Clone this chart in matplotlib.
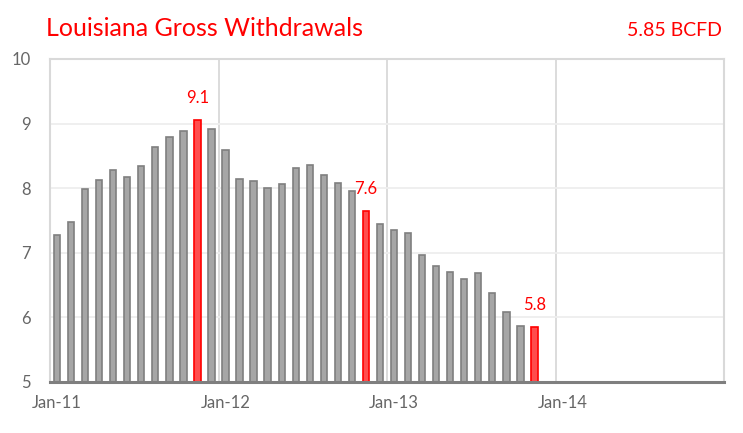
import matplotlib
matplotlib.use("Agg")
import matplotlib.pyplot as plt
import numpy as np

# Louisiana gross withdrawals, monthly, Jan-11 .. Nov-13 (BCFD)
valores = [7.28, 7.48, 7.98, 8.12, 8.28, 8.17, 8.35, 8.64, 8.80, 8.88, 9.05, 8.91,
           8.59, 8.14, 8.11, 8.00, 8.07, 8.32, 8.36, 8.21, 8.08, 7.96, 7.65, 7.45,
           7.36, 7.30, 6.96, 6.79, 6.70, 6.60, 6.69, 6.38, 6.08, 5.86, 5.85]
# meses resaltados (noviembre de cada anio) y sus etiquetas
resaltados = [10, 22, 34]
etiquetas_resaltadas = ["9.1", "7.6", "5.8"]
etiquetas_x = ["Jan-11", "Jan-12", "Jan-13", "Jan-14"]
n_meses = 48  # el eje llega hasta Jan-15

plt.rcParams['font.family'] = ['Lato', 'DejaVu Sans']

fig = plt.figure(figsize=(7.43, 4.33), dpi=100)
ax = fig.add_axes([50/743, 1-382/433, (724-50)/743, (382-59)/433])

x = np.arange(len(valores)) + 0.5
colores = ['#a6a6a6'] * len(valores)
bordes = ['#7f7f7f'] * len(valores)
for i in resaltados:
    colores[i] = '#ff4d4d'
    bordes[i] = '#ff0000'

ax.bar(x, np.array(valores) - 5, bottom=5, width=0.45, color=colores,
       edgecolor=bordes, linewidth=1.2, zorder=3)

for i, txt in zip(resaltados, etiquetas_resaltadas):
    ax.annotate(txt, (x[i], valores[i]), xytext=(0, 10), textcoords='offset points',
                ha='center', va='bottom', color='#ff0000', fontsize=12)

ax.set_xlim(0, n_meses)
ax.set_ylim(5, 10)
ax.set_yticks([5, 6, 7, 8, 9, 10])

# lineas verticales de cada anio
for k in range(1, n_meses // 12):
    ax.axvline(12 * k, color='#d9d9d9', linewidth=1.3, zorder=1)
for yv in [6, 7, 8, 9]:
    ax.axhline(yv, color='#eeeeee', linewidth=1.3, zorder=1)

ax.set_xticks(np.arange(len(etiquetas_x)) * 12 + 0.5)
ax.set_xticklabels(etiquetas_x)
ax.tick_params(axis='both', length=0, labelsize=12, colors='#666666')
ax.tick_params(axis='x', pad=9)
ax.tick_params(axis='y', pad=14)

for lado in ['top', 'left', 'right']:
    ax.spines[lado].set_color('#d9d9d9')
    ax.spines[lado].set_linewidth(1.5)
ax.spines['bottom'].set_color('#7f7f7f')
ax.spines['bottom'].set_linewidth(2.2)
ax.spines['bottom'].set_zorder(4)

fig.text(46/743, 1-36/433, 'Louisiana Gross Withdrawals', color='#ff0000',
         fontsize=18, ha='left', va='baseline')
fig.text(722/743, 1-36/433, '5.85 BCFD', color='#ff0000',
         fontsize=14, ha='right', va='baseline')

fig.savefig('out.png', dpi=100)
